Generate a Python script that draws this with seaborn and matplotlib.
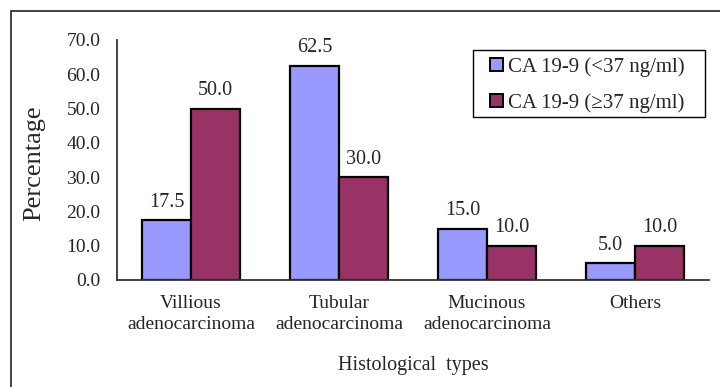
import matplotlib
matplotlib.use("Agg")
import matplotlib.pyplot as plt
from matplotlib.patches import Rectangle
import seaborn as sns
import pandas as pd

categories = ["Villious\nadenocarcinoma", "Tubular\nadenocarcinoma",
              "Mucinous\nadenocarcinoma", "Others"]
series_names = ["CA 19-9 (<37 ng/ml)", "CA 19-9 (\u226537 ng/ml)"]
low_values = [17.5, 62.5, 15.0, 5.0]
high_values = [50.0, 30.0, 10.0, 10.0]
y_ticks = [0, 10, 20, 30, 40, 50, 60, 70]

df = pd.DataFrame({
    "type": categories * 2,
    "group": [series_names[0]] * 4 + [series_names[1]] * 4,
    "pct": low_values + high_values,
})

sns.set_style("white")
plt.rcParams["font.family"] = ["Liberation Serif", "DejaVu Serif"]
plt.rcParams["font.size"] = 14

fig = plt.figure(figsize=(7.2, 3.87), dpi=100)
ax = fig.add_axes([117 / 720, 1 - 280 / 387, 592 / 720, 240 / 387])

sns.barplot(data=df, x="type", y="pct", hue="group", order=categories,
            hue_order=series_names, palette=["#9999FF", "#993366"],
            width=0.66, gap=0, edgecolor="black", linewidth=1.6,
            saturation=1, ax=ax, legend=True)

for cont in ax.containers:
    ax.bar_label(cont, fmt="%.1f", padding=6, fontsize=14.5)

ax.set_ylim(0, 70)
ax.set_xlim(-0.5, 3.5)
ax.set_yticks(y_ticks)
ax.set_yticklabels([f"{v:.1f}" for v in y_ticks])
ax.set_xticks([-0.5, 0.5, 1.5, 2.5, 3.5])
ax.set_xticklabels([])
ax.set_xticks(range(len(categories)), minor=True)
ax.set_xticklabels(categories, minor=True, linespacing=1.27)
ax.tick_params(axis="x", which="major", direction="out", length=4, width=1.2, color="#333333")
ax.tick_params(axis="x", which="minor", length=0, pad=11, labelsize=14)
ax.tick_params(axis="y", direction="out", length=4, width=1.2, color="#333333",
               pad=8, labelsize=14)

for side in ("top", "right"):
    ax.spines[side].set_visible(False)
for side in ("left", "bottom"):
    ax.spines[side].set_color("#333333")
    ax.spines[side].set_linewidth(1.3)

ax.set_xlabel("Histological  types", fontsize=14.5)
ax.xaxis.set_label_coords(0.5, -0.318)
ax.set_ylabel("Percentage", fontsize=19)
ax.yaxis.set_label_coords(-0.122, 0.485)

# legend entries without their own frame; the box is drawn separately
leg = ax.legend(loc="upper left", bbox_to_anchor=(490 / 720, 1 - 57 / 387),
                bbox_transform=fig.transFigure, frameon=False,
                fontsize=15, handlelength=0.6, handleheight=0.6,
                handletextpad=0.25, borderpad=0, borderaxespad=0,
                labelspacing=0.8)
for h in leg.legend_handles:
    h.set_edgecolor("black")
    h.set_linewidth(1.4)

fig.patches.append(Rectangle((473 / 720, 1 - 117 / 387), 232 / 720, 67 / 387,
                             transform=fig.transFigure, fill=False,
                             edgecolor="black", linewidth=1.0))

fig.patches.append(Rectangle((10.5 / 720, -0.2), 1.2, 1 - 10.5 / 387 + 0.2,
                             transform=fig.transFigure, fill=False,
                             edgecolor="#333333", linewidth=1.3))

fig.savefig("out.png", dpi=100)
